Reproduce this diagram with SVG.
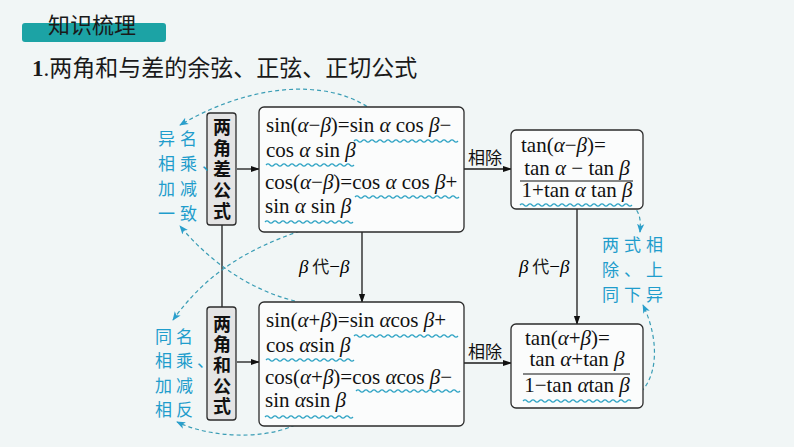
<svg xmlns="http://www.w3.org/2000/svg" xmlns:xlink="http://www.w3.org/1999/xlink" width="794" height="447" viewBox="0 0 794 447">
<style>
.cjk{font-family:"Noto Sans CJK SC","Noto Sans",sans-serif;fill:#1a1a1a}
.f{font-family:"Liberation Serif","Times New Roman",serif;font-size:21px;fill:#111}
.g{font-style:italic}
.box{fill:#fbfcfc;stroke:#2b2b2b;stroke-width:1.3}
.vbox{fill:#e4e4e4;stroke:#2b2b2b;stroke-width:1.3}
.vt{font-family:"Noto Sans CJK SC",sans-serif;font-size:18px;font-weight:bold;fill:#111}
.ln{stroke:#1a1a1a;stroke-width:1.3;fill:none}
.dash{stroke:#3a9db5;stroke-width:1.2;fill:none;stroke-dasharray:4 3}
.note{font-family:"Noto Sans CJK SC",sans-serif;font-size:17px;fill:#1f9dcc}
.wv{stroke:#2ea3c4;stroke-width:1.2;fill:none}
.lab{font-family:"Noto Sans CJK SC",sans-serif;font-size:17px;fill:#111}
</style>
<defs>
<marker id="ah" viewBox="0 0 10 10" refX="9" refY="5" markerWidth="9" markerHeight="9" markerUnits="userSpaceOnUse" orient="auto"><path d="M0,1.5 L10,5 L0,8.5 z" fill="#111"/></marker>
<marker id="bh" viewBox="0 0 10 10" refX="9" refY="5" markerWidth="9" markerHeight="9" markerUnits="userSpaceOnUse" orient="auto"><path d="M0,1 L10,5 L0,9 L2.5,5 z" fill="#2a9fcc"/></marker>
<path id="w88" class="wv" d="M0,0 q2,-2.4 4,0 t4,0 t4,0 t4,0 t4,0 t4,0 t4,0 t4,0 t4,0 t4,0 t4,0 t4,0 t4,0 t4,0 t4,0 t4,0 t4,0 t4,0 t4,0 t4,0 t4,0 t4,0"/>
<path id="w100" class="wv" d="M0,0 q2,-2.4 4,0 t4,0 t4,0 t4,0 t4,0 t4,0 t4,0 t4,0 t4,0 t4,0 t4,0 t4,0 t4,0 t4,0 t4,0 t4,0 t4,0 t4,0 t4,0 t4,0 t4,0 t4,0 t4,0 t4,0 t4,0 t4,0"/>
<path id="w108" class="wv" d="M0,0 q2,-2.4 4,0 t4,0 t4,0 t4,0 t4,0 t4,0 t4,0 t4,0 t4,0 t4,0 t4,0 t4,0 t4,0 t4,0 t4,0 t4,0 t4,0 t4,0 t4,0 t4,0 t4,0 t4,0 t4,0 t4,0 t4,0 t4,0 t4,0"/>
<path id="w112" class="wv" d="M0,0 q2,-2.4 4,0 t4,0 t4,0 t4,0 t4,0 t4,0 t4,0 t4,0 t4,0 t4,0 t4,0 t4,0 t4,0 t4,0 t4,0 t4,0 t4,0 t4,0 t4,0 t4,0 t4,0 t4,0 t4,0 t4,0 t4,0 t4,0 t4,0 t4,0"/>
</defs>
<rect width="794" height="447" fill="#f1f6f6"/>

<g id="header">
<rect x="22" y="23" width="144" height="19" rx="3" fill="#1ca3a5"/>
<text class="cjk" x="48" y="33" font-size="22">知识梳理</text>
</g>
<g id="title">
<text x="32" y="76" class="cjk" font-size="23"><tspan font-family="Liberation Serif,serif" font-weight="bold">1</tspan><tspan font-family="Liberation Serif,serif">.</tspan>两角和与差的余弦、正弦、正切公式</text>
</g>

<g id="connectors">
<line class="ln" x1="222" y1="225" x2="222" y2="307"/>
<line class="ln" x1="237" y1="169" x2="259" y2="169" marker-end="url(#ah)"/>
<line class="ln" x1="237" y1="362" x2="259" y2="362" marker-end="url(#ah)"/>
<line class="ln" x1="362" y1="232" x2="362" y2="302" marker-end="url(#ah)"/>
<line class="ln" x1="577" y1="209" x2="577" y2="324" marker-end="url(#ah)"/>
<line class="ln" x1="464" y1="169" x2="511" y2="169" marker-end="url(#ah)"/>
<line class="ln" x1="464" y1="363" x2="511" y2="363" marker-end="url(#ah)"/>
<text class="lab" x="468" y="164">相除</text>
<text class="lab" x="468" y="358">相除</text>
<text x="299" y="273" font-size="19"><tspan font-family="Liberation Serif,serif" font-style="italic">β</tspan><tspan class="cjk" font-size="17"> 代</tspan><tspan font-family="Liberation Serif,serif">−</tspan><tspan font-family="Liberation Serif,serif" font-style="italic">β</tspan></text>
<text x="519" y="273" font-size="19"><tspan font-family="Liberation Serif,serif" font-style="italic">β</tspan><tspan class="cjk" font-size="17"> 代</tspan><tspan font-family="Liberation Serif,serif">−</tspan><tspan font-family="Liberation Serif,serif" font-style="italic">β</tspan></text>
<path class="dash" d="M378,115 C340,80 260,78 180,125" marker-end="url(#bh)"/>
<path class="dash" d="M300,231 C245,250 205,275 173,320" marker-end="url(#bh)"/>
<path class="dash" d="M295,301 C250,290 210,262 180,226" marker-end="url(#bh)"/>
<path class="dash" d="M301,421 C280,437 220,442 177,422" marker-end="url(#bh)"/>
<path class="dash" d="M632,205 C640,212 641,220 640,232" marker-end="url(#bh)"/>
<path class="dash" d="M630,400 C660,385 660,340 643,305" marker-end="url(#bh)"/>
</g>

<g id="diff-formula-label">
<rect class="vbox" x="207" y="113" width="29" height="112" rx="3"/>
<text class="vt"><tspan x="213" y="133.5">两</tspan><tspan x="213" y="154.5">角</tspan><tspan x="213" y="176">差</tspan><tspan x="213" y="197">公</tspan><tspan x="213" y="218">式</tspan></text>
</g>
<g id="sum-formula-label">
<rect class="vbox" x="207" y="307" width="29" height="113" rx="3"/>
<text class="vt"><tspan x="213" y="330.5">两</tspan><tspan x="213" y="351">角</tspan><tspan x="213" y="372">和</tspan><tspan x="213" y="392.5">公</tspan><tspan x="213" y="413">式</tspan></text>
</g>

<g id="sin-cos-diff">
<rect class="box" x="259" y="107" width="205" height="125" rx="5"/>
<text class="f" x="266" y="132">sin(<tspan class="g">α</tspan>−<tspan class="g">β</tspan>)=sin <tspan class="g">α</tspan> cos <tspan class="g">β</tspan>−</text>
<text class="f" x="266" y="157">cos <tspan class="g">α</tspan> sin <tspan class="g">β</tspan></text>
<text class="f" x="265" y="189">cos(<tspan class="g">α</tspan>−<tspan class="g">β</tspan>)=cos <tspan class="g">α</tspan> cos <tspan class="g">β</tspan>+</text>
<text class="f" x="265" y="213">sin <tspan class="g">α</tspan> sin <tspan class="g">β</tspan></text>
<use xlink:href="#w100" x="354" y="141"/>
<use xlink:href="#w88" x="266" y="165"/>
<use xlink:href="#w100" x="355" y="197"/>
<use xlink:href="#w88" x="265" y="222"/>
</g>

<g id="sin-cos-sum">
<rect class="box" x="259" y="302" width="205" height="124" rx="5"/>
<text class="f" x="266" y="327">sin(<tspan class="g">α</tspan>+<tspan class="g">β</tspan>)=sin <tspan class="g">α</tspan>cos <tspan class="g">β</tspan>+</text>
<text class="f" x="266" y="352">cos <tspan class="g">α</tspan>sin <tspan class="g">β</tspan></text>
<text class="f" x="265" y="384">cos(<tspan class="g">α</tspan>+<tspan class="g">β</tspan>)=cos <tspan class="g">α</tspan>cos <tspan class="g">β</tspan>−</text>
<text class="f" x="265" y="407">sin <tspan class="g">α</tspan>sin <tspan class="g">β</tspan></text>
<use xlink:href="#w100" x="354" y="336"/>
<use xlink:href="#w88" x="266" y="360"/>
<use xlink:href="#w100" x="356" y="391"/>
<use xlink:href="#w88" x="265" y="417"/>
</g>

<g id="tan-diff">
<rect class="box" x="511" y="130" width="132" height="79" rx="5"/>
<text class="f" x="521" y="152">tan(<tspan class="g">α</tspan>−<tspan class="g">β</tspan>)=</text>
<text class="f" x="577" y="175" text-anchor="middle">tan <tspan class="g">α</tspan> − tan <tspan class="g">β</tspan></text>
<line x1="520" y1="181" x2="633" y2="181" stroke="#111" stroke-width="1.2"/>
<text class="f" x="577" y="197" text-anchor="middle">1+tan <tspan class="g">α</tspan> tan <tspan class="g">β</tspan></text>
<use xlink:href="#w112" x="520" y="205"/>
</g>

<g id="tan-sum">
<rect class="box" x="511" y="324" width="132" height="84" rx="5"/>
<text class="f" x="525" y="345">tan(<tspan class="g">α</tspan>+<tspan class="g">β</tspan>)=</text>
<text class="f" x="577" y="366" text-anchor="middle">tan <tspan class="g">α</tspan>+tan <tspan class="g">β</tspan></text>
<line x1="523" y1="374" x2="630" y2="374" stroke="#111" stroke-width="1.2"/>
<text class="f" x="577" y="392" text-anchor="middle">1−tan <tspan class="g">α</tspan>tan <tspan class="g">β</tspan></text>
<use xlink:href="#w108" x="523" y="401"/>
</g>

<g id="note-diff">
<text class="note" letter-spacing="5"><tspan x="158" y="145">异名</tspan><tspan x="158" y="170">相乘、</tspan><tspan x="158" y="195">加减</tspan><tspan x="158" y="220">一致</tspan></text>
</g>
<g id="note-sum">
<text class="note" letter-spacing="4"><tspan x="155" y="343">同名</tspan><tspan x="155" y="367">相乘、</tspan><tspan x="155" y="392">加减</tspan><tspan x="155" y="416">相反</tspan></text>
</g>
<g id="note-tan">
<text class="note" font-size="16" letter-spacing="5"><tspan x="602" y="251">两式相</tspan><tspan x="602" y="276">除、上</tspan><tspan x="602" y="301">同下异</tspan></text>
</g>
</svg>
